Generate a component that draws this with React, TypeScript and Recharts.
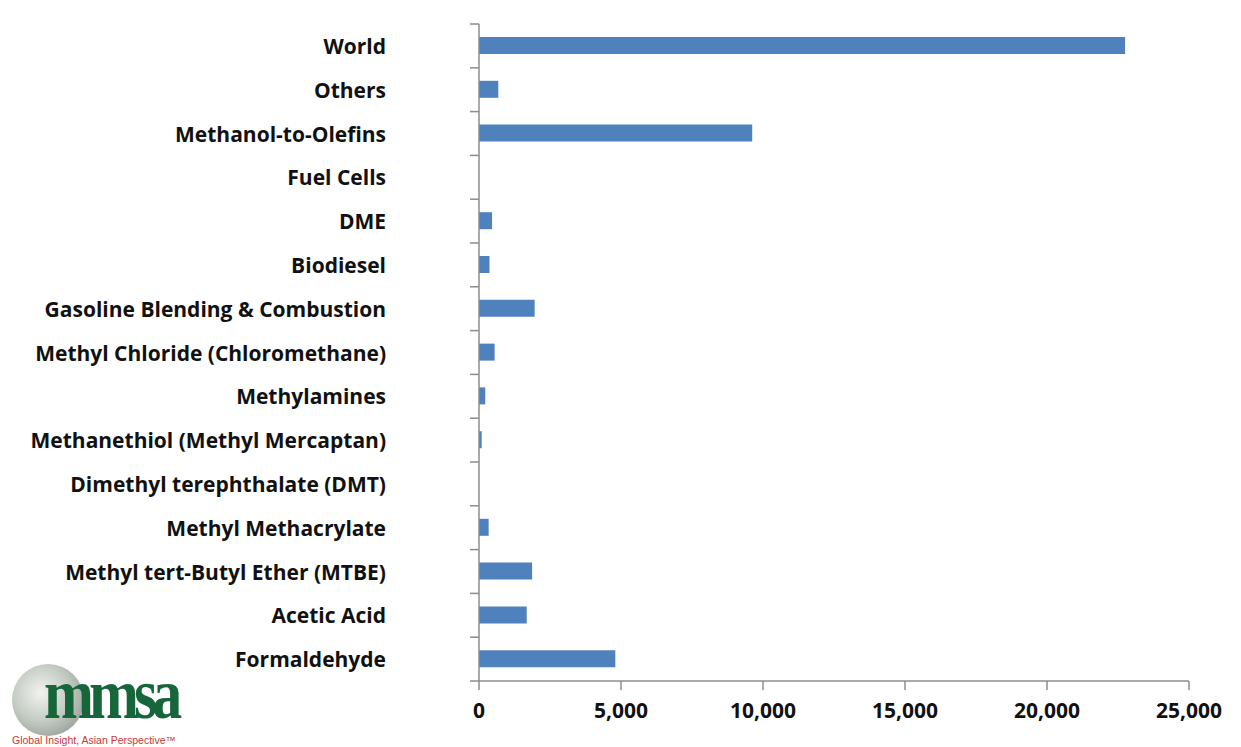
import React from 'react';
import { BarChart, Bar, XAxis, YAxis } from 'recharts';

const categories = [
  'World',
  'Others',
  'Methanol-to-Olefins',
  'Fuel Cells',
  'DME',
  'Biodiesel',
  'Gasoline Blending & Combustion',
  'Methyl Chloride (Chloromethane)',
  'Methylamines',
  'Methanethiol (Methyl Mercaptan) ',
  'Dimethyl terephthalate (DMT)',
  'Methyl Methacrylate',
  'Methyl tert-Butyl Ether (MTBE)',
  'Acetic Acid',
  'Formaldehyde',
];
const values = [22750, 680, 9620, 0, 460, 370, 1960, 550, 220, 95, 0, 340, 1870, 1680, 4800];
const xTicks = [0, 5000, 10000, 15000, 20000, 25000];

const data = categories.map((name, i) => ({ name, value: values[i] }));

const W = 1241;
const H = 747;
const TOP = 24;
const BOTTOM = 681;
const LEFT = 479;
const RIGHT = 1189;
const XAXIS_H = 30;
const BAND = (BOTTOM - TOP) / categories.length;
const FONT = "'Open Sans', 'Liberation Sans', sans-serif";
const AXIS_COLOR = '#8c8c8c';

const CategoryTick = (props: any) => {
  const { y, payload, index } = props;
  const isLast = index === categories.length - 1;
  return (
    <g>
      <line x1={LEFT - 9} x2={LEFT} y1={y - BAND / 2} y2={y - BAND / 2} stroke={AXIS_COLOR} strokeWidth={1.5} />
      {isLast && (
        <line x1={LEFT - 9} x2={LEFT} y1={y + BAND / 2} y2={y + BAND / 2} stroke={AXIS_COLOR} strokeWidth={1.5} />
      )}
      <text
        x={386}
        y={y}
        textAnchor="end"
        dominantBaseline="central"
        fontFamily={FONT}
        fontWeight={700}
        fontSize={21}
        fill="#111"
      >
        {payload.value}
      </text>
    </g>
  );
};

export default function App() {
  return (
    <div style={{ position: 'absolute', left: 0, top: 0, width: W, height: H, background: '#fff' }}>
      <BarChart
        width={W}
        height={H}
        data={data}
        layout="vertical"
        margin={{ top: TOP, bottom: H - BOTTOM - XAXIS_H, left: 0, right: W - RIGHT }}
        barCategoryGap={0}
      >
        <XAxis
          type="number"
          domain={[0, 25000]}
          ticks={xTicks}
          height={XAXIS_H}
          tickFormatter={(v: number) => v.toLocaleString('en-US')}
          axisLine={{ stroke: AXIS_COLOR, strokeWidth: 1.5 }}
          tickLine={{ stroke: AXIS_COLOR, strokeWidth: 1.5 }}
          tickSize={9}
          tickMargin={13}
          tick={{ fontFamily: FONT, fontWeight: 700, fontSize: 21, fill: '#111' }}
          interval={0}
        />
        <YAxis
          type="category"
          dataKey="name"
          width={LEFT}
          axisLine={{ stroke: AXIS_COLOR, strokeWidth: 1.5 }}
          tickLine={false}
          tick={<CategoryTick />}
          interval={0}
        />
        <Bar dataKey="value" fill="#4F81BD" barSize={17} isAnimationActive={false} />
      </BarChart>
      <div style={{ position: 'absolute', left: 10, top: 662, width: 180, height: 84 }}>
        <div
          style={{
            position: 'absolute',
            left: 2,
            top: 2,
            width: 72,
            height: 72,
            borderRadius: '50%',
            background: 'radial-gradient(circle at 40% 40%, #eef0ec 0%, #b7c0b6 45%, #7d8a82 80%, #d3d8d4 100%)',
            opacity: 0.8,
          }}
        />
        <div
          style={{
            position: 'absolute',
            left: 34,
            top: 16,
            height: 40,
            fontFamily: "'Liberation Serif', 'DejaVu Serif', serif",
            fontSize: 60,
            lineHeight: '40px',
            color: '#17653a',
            letterSpacing: -5,
            fontWeight: 700,
            transform: 'scaleY(1.2)',
            transformOrigin: 'bottom',
          }}
        >
          mmsa
        </div>
        <div
          style={{
            position: 'absolute',
            left: 2,
            top: 72,
            fontFamily: "'Liberation Sans', sans-serif",
            fontSize: 10.5,
            lineHeight: '12px',
            color: '#c8383c',
            whiteSpace: 'nowrap',
          }}
        >
          Global Insight, Asian Perspective™
        </div>
      </div>
    </div>
  );
}
